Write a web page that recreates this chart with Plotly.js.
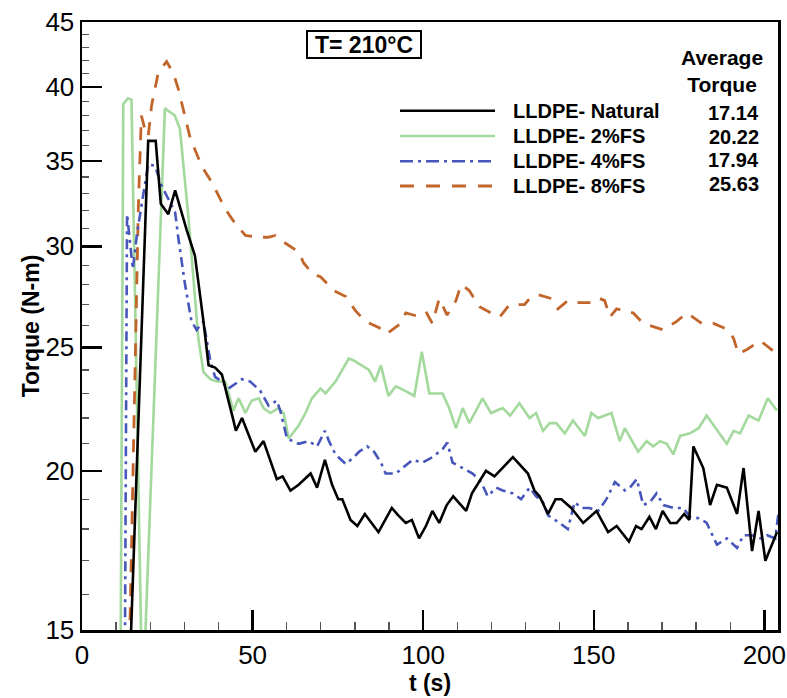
<!DOCTYPE html>
<html>
<head>
<meta charset="utf-8">
<script src="https://cdn.plot.ly/plotly-3.0.1.min.js"></script>
<style>html,body{margin:0;padding:0;background:#fff;}#chart{width:787px;height:698px;}</style>
</head>
<body>
<div id="chart"></div>
<script>
// ---- data (time in s, torque in N-m) ----
const seriesNames = ['LLDPE- Natural', 'LLDPE- 2%FS', 'LLDPE- 4%FS', 'LLDPE- 8%FS'];
const averageTorque = ['17.14', '20.22', '17.94', '25.63'];

const tNatural = [13.8, 19.4, 21.6, 23.1, 25.3, 27.3, 30.7, 33.1, 35.6, 37.1, 39.0, 41.0, 44.4, 45.1, 46.9, 50.8, 53.2, 57.1, 58.8, 61.1, 63.5, 67.0, 68.9, 71.2, 73.3, 75.1, 76.3, 78.7, 80.7, 82.9, 86.9, 90.8, 92.7, 94.9, 96.7, 98.8, 100.8, 102.7, 104.7, 106.9, 108.8, 112.6, 114.3, 118.4, 120.9, 126.3, 130.7, 132.6, 134.1, 136.6, 138.8, 140.5, 143.4, 146.9, 150.8, 154.2, 156.7, 160.3, 162.4, 164.0, 166.3, 168.2, 170.2, 172.4, 174.3, 176.5, 178.0, 179.2, 182.1, 184.1, 186.1, 189.0, 192.0, 193.9, 196.4, 198.3, 200.3, 203.7];
const vNatural = [13.5, 36.3, 36.3, 32.4, 31.8, 33.2, 30.9, 29.5, 26.2, 24.2, 24.1, 23.8, 21.9, 21.5, 22.0, 20.7, 21.1, 19.7, 19.8, 19.3, 19.5, 19.9, 19.4, 20.4, 19.5, 19.0, 19.0, 18.3, 18.1, 18.5, 17.9, 18.7, 18.45, 18.2, 18.3, 17.7, 18.1, 18.6, 18.2, 18.8, 19.1, 18.6, 19.2, 20.0, 19.8, 20.5, 19.9, 19.3, 19.1, 18.5, 19.0, 19.0, 18.7, 18.2, 18.6, 17.9, 18.1, 17.6, 18.1, 18.0, 18.4, 18.0, 18.6, 18.2, 18.2, 18.5, 18.3, 20.9, 20.1, 18.8, 19.5, 19.4, 18.5, 20.1, 17.3, 18.6, 17.0, 17.9];

const tFS2 = [11.3, 12.1, 13.5, 14.5, 17.5, 18.2, 24.3, 27.2, 28.7, 31.2, 34.1, 35.6, 37.6, 39.5, 42.0, 44.4, 45.9, 47.9, 49.7, 51.8, 53.2, 55.2, 57.6, 59.1, 60.6, 63.5, 65.5, 67.4, 69.9, 71.4, 74.3, 78.2, 79.7, 81.7, 84.1, 85.9, 87.6, 89.8, 92.0, 94.9, 97.4, 99.6, 101.8, 103.7, 105.7, 107.6, 109.6, 111.6, 113.5, 117.4, 119.9, 123.3, 125.5, 128.2, 131.2, 133.1, 135.1, 137.1, 139.0, 141.5, 143.9, 147.4, 149.3, 151.3, 155.2, 157.6, 159.1, 163.0, 165.5, 167.4, 169.4, 171.4, 173.3, 175.3, 178.2, 180.7, 183.1, 189.0, 191.0, 192.9, 195.4, 198.3, 201.0, 203.7];
const vFS2 = [14.0, 38.8, 39.2, 39.1, 14.0, 14.0, 38.5, 38.0, 37.1, 31.6, 25.4, 23.9, 23.6, 23.5, 23.5, 22.3, 22.8, 22.2, 22.7, 22.8, 22.4, 22.2, 22.4, 22.2, 21.2, 21.7, 22.2, 22.8, 23.2, 23.0, 23.5, 24.5, 24.4, 24.2, 24.0, 23.5, 24.2, 22.9, 23.3, 23.1, 22.9, 24.8, 23.0, 23.0, 23.0, 22.4, 21.6, 22.4, 21.8, 22.8, 22.2, 22.4, 22.1, 22.6, 22.0, 22.2, 21.5, 21.8, 21.8, 21.4, 21.9, 21.3, 22.2, 22.0, 22.2, 21.1, 21.6, 20.7, 21.1, 20.9, 21.1, 21.0, 20.6, 21.3, 21.4, 21.6, 22.1, 21.0, 21.5, 21.4, 22.1, 21.9, 22.8, 22.3];

const tFS4 = [12.5, 13.2, 14.9, 16.2, 19.4, 21.4, 23.3, 25.3, 27.3, 28.2, 30.2, 32.1, 33.6, 35.6, 37.6, 39.0, 41.0, 42.9, 46.9, 49.3, 52.3, 54.7, 57.1, 58.1, 60.1, 63.5, 66.5, 68.9, 71.2, 72.4, 74.3, 77.3, 79.7, 81.2, 83.6, 85.6, 87.6, 89.0, 92.0, 93.9, 96.9, 99.8, 102.7, 105.7, 107.1, 108.6, 111.6, 114.5, 117.0, 118.9, 121.4, 123.3, 126.3, 128.7, 131.2, 133.1, 135.1, 136.6, 140.0, 142.4, 144.4, 146.4, 148.8, 151.3, 153.7, 156.2, 159.1, 160.6, 162.6, 164.5, 166.5, 168.4, 170.4, 173.3, 176.3, 178.2, 181.2, 183.1, 186.1, 189.0, 192.0, 193.9, 196.4, 198.8, 200.8, 203.2, 204.1];
const vFS4 = [13.0, 31.8, 28.8, 30.8, 34.8, 34.7, 33.5, 32.7, 31.9, 30.5, 28.0, 26.2, 25.8, 26.2, 24.4, 23.7, 23.5, 23.2, 23.6, 23.5, 23.1, 22.5, 22.7, 22.3, 21.2, 21.0, 21.1, 20.9, 21.5, 21.1, 20.6, 20.25, 20.5, 20.7, 20.9, 20.7, 20.3, 19.9, 19.9, 20.1, 20.4, 20.3, 20.5, 20.8, 21.05, 20.3, 20.1, 19.9, 19.6, 19.1, 19.4, 19.3, 19.2, 19.0, 19.4, 19.1, 18.9, 18.45, 18.2, 18.0, 18.9, 18.7, 18.7, 18.6, 19.0, 19.6, 19.3, 19.4, 19.7, 18.8, 18.9, 19.2, 18.8, 18.7, 18.7, 18.4, 18.35, 18.2, 17.5, 17.7, 17.4, 17.8, 17.8, 17.7, 17.8, 17.7, 18.5];

const tFS8 = [13.8, 16.5, 17.4, 18.4, 19.4, 20.4, 21.4, 22.4, 24.8, 26.8, 28.2, 30.2, 31.7, 34.1, 35.6, 38.0, 40.0, 42.0, 44.4, 47.9, 51.8, 54.5, 56.7, 58.6, 63.5, 65.0, 67.9, 69.9, 73.8, 77.3, 80.2, 83.1, 87.1, 89.2, 90.0, 93.4, 94.9, 99.3, 101.0, 102.7, 104.7, 107.0, 109.6, 111.1, 113.5, 116.5, 119.9, 122.4, 125.3, 129.7, 131.2, 133.6, 137.6, 139.5, 142.4, 145.9, 150.3, 151.8, 153.2, 154.7, 156.7, 161.6, 164.5, 170.4, 174.3, 177.3, 181.7, 185.1, 189.5, 191.0, 192.4, 194.9, 198.8, 203.7];
const vFS8 = [14.0, 32.1, 38.0, 37.1, 36.6, 38.7, 39.9, 41.1, 41.9, 41.0, 39.9, 37.8, 36.5, 35.2, 34.5, 33.7, 32.9, 32.1, 31.4, 30.6, 30.5, 30.5, 30.6, 30.3, 29.7, 29.1, 28.5, 28.4, 27.7, 27.4, 26.7, 26.2, 25.9, 25.6, 25.7, 26.1, 26.6, 26.4, 26.6, 26.1, 27.3, 26.5, 27.2, 28.0, 27.7, 26.9, 26.6, 26.4, 27.0, 27.0, 27.3, 27.5, 27.3, 26.8, 27.2, 27.1, 27.1, 27.3, 27.2, 26.4, 26.8, 26.6, 26.1, 25.8, 26.2, 26.6, 26.1, 26.1, 25.8, 25.4, 24.7, 24.9, 25.3, 24.7];

const xTickVals = [0, 50, 100, 150, 200];
const yTickVals = [15, 20, 25, 30, 35, 40, 45];
const yMinorVals = [16, 17, 18, 19, 21, 22, 23, 24, 26, 27, 28, 29, 31, 32, 33, 34, 36, 37, 38, 39, 41, 42, 43, 44];

// ---- styles ----
const FONT = 'Liberation Sans, Arial, Helvetica, sans-serif';
const lineStyles = [
  {color: '#000000', width: 2.6, dash: 'solid'},
  {color: '#a3d99c', width: 2.6, dash: 'solid'},
  {color: '#4656bb', width: 2.6, dash: '10px,5px,3px,5px'},
  {color: '#c2652a', width: 2.8, dash: '13px,11px'}
];
const seriesT = [tNatural, tFS2, tFS4, tFS8];
const seriesV = [vNatural, vFS2, vFS4, vFS8];

const drawOrder = [1, 3, 2, 0];
const traces = drawOrder.map(i => ({
  type: 'scatter', mode: 'lines',
  x: seriesT[i], y: seriesV[i], name: seriesNames[i],
  line: {color: lineStyles[i].color, width: lineStyles[i].width, dash: lineStyles[i].dash},
  showlegend: false, hoverinfo: 'skip'
}));

// plot area in pixels: x 82..778, y 22..630
const L = 82, R = 778, T = 22, B = 630;
const px = x => (x - L) / (R - L);
const py = y => (B - y) / (B - T);

const shapes = [];
const annotations = [];
const rowY = [110.7, 136, 161.3, 186];
const valY = [113, 136.5, 160, 183.5];
const legendDash = ['solid', 'solid', '13px,5px,3px,5px', '14px,12px'];
seriesNames.forEach((name, i) => {
  shapes.push({type: 'line', xref: 'paper', yref: 'paper',
    x0: px(400), x1: px(495), y0: py(rowY[i]), y1: py(rowY[i]),
    line: {color: lineStyles[i].color, width: lineStyles[i].width, dash: legendDash[i]}});
  annotations.push({xref: 'paper', yref: 'paper', x: px(511), y: py(rowY[i]),
    xanchor: 'left', yanchor: 'middle', showarrow: false, text: name,
    font: {family: FONT, size: 20, color: '#000', weight: 'bold'}});
  annotations.push({xref: 'paper', yref: 'paper', x: px(761), y: py(valY[i]),
    xanchor: 'right', yanchor: 'middle', showarrow: false, text: averageTorque[i],
    font: {family: FONT, size: 20, color: '#000', weight: 'bold'}});
});
annotations.push({xref: 'paper', yref: 'paper', x: px(722), y: py(71.5),
  xanchor: 'center', yanchor: 'middle', showarrow: false, text: 'Average<br>Torque',
  font: {family: FONT, size: 21, color: '#000', weight: 'bold'}});
annotations.push({xref: 'paper', yref: 'paper', x: px(363.5), y: py(45),
  xanchor: 'center', yanchor: 'middle', showarrow: false, text: 'T= 210°C',
  font: {family: FONT, size: 23, color: '#000', weight: 'bold'},
  bordercolor: '#000', borderwidth: 2, borderpad: 1, bgcolor: '#fff', width: 110, height: 23});

const axisCommon = {
  showline: true, linecolor: '#000', linewidth: 2.5, mirror: true,
  ticks: 'inside', ticklen: 20, tickwidth: 2.5, tickcolor: '#000',
  showgrid: false, zeroline: false,
  tickfont: {family: FONT, size: 26, color: '#000'}
};

const layout = {
  width: 787, height: 698,
  margin: {l: L, r: 787 - R, t: T, b: 698 - B},
  paper_bgcolor: '#fff', plot_bgcolor: '#fff',
  showlegend: false,
  xaxis: Object.assign({}, axisCommon, {
    range: [0, 204], tickmode: 'array', tickvals: xTickVals,
    minor: {ticks: 'inside', tick0: 0, dtick: 10, ticklen: 8, tickwidth: 1.3, tickcolor: '#555'},
    title: {text: 't (s)', standoff: 6, font: {family: FONT, size: 23, color: '#000', weight: 'bold'}}
  }),
  yaxis: Object.assign({}, axisCommon, {
    type: 'log', range: [Math.log10(15), Math.log10(45)],
    tickmode: 'array', tickvals: yTickVals, ticktext: yTickVals.map(String),
    minor: {ticks: 'inside', tickmode: 'array', tickvals: yMinorVals, ticklen: 7, tickwidth: 1.3, tickcolor: '#555'},
    title: {text: 'Torque (N-m)', standoff: 0, font: {family: FONT, size: 23, color: '#000', weight: 'bold'}}
  }),
  shapes: shapes,
  annotations: annotations
};

Plotly.newPlot('chart', traces, layout, {displayModeBar: false, staticPlot: true});
</script>
</body>
</html>
